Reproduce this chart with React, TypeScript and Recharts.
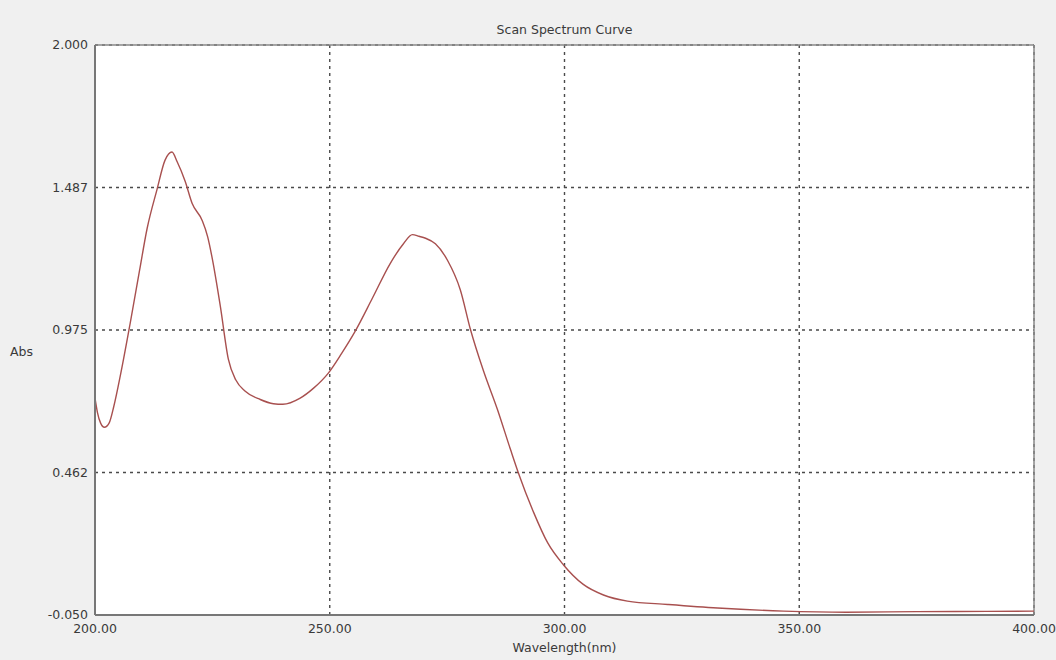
import React from 'react';
import { LineChart, Line, XAxis, YAxis, CartesianGrid, ReferenceLine } from 'recharts';

const wavelengths = [
  200.0, 200.5, 201.2, 202.0, 203.0, 204.0, 205.5, 207.5, 209.5, 211.1,
  213.2, 214.9, 216.4, 217.5, 219.2, 220.7, 222.8, 224.0, 225.0, 226.7,
  228.4, 230.0, 232.0, 235.2, 238.0, 240.0, 243.7, 246.5, 249.7, 252.5,
  255.4, 259.1, 262.9, 265.7, 267.6, 269.0, 270.4, 272.5, 275.1, 277.8,
  280.0, 282.7, 285.7, 288.5, 290.2, 293.4, 296.4, 299.8, 304.0, 308.3,
  313.4, 322.0, 332.6, 346.7, 360.0, 375.0, 390.0, 400.0,
];

const absorbance = [
  0.73, 0.68, 0.64, 0.625, 0.64, 0.70, 0.82, 1.0, 1.19, 1.34,
  1.48, 1.585, 1.615, 1.58, 1.51, 1.43, 1.37, 1.31, 1.23, 1.06,
  0.87, 0.795, 0.755, 0.725, 0.71, 0.708, 0.73, 0.765, 0.82, 0.89,
  0.97, 1.09, 1.215, 1.285, 1.318, 1.312, 1.305, 1.285, 1.225, 1.12,
  0.975, 0.83, 0.69, 0.545, 0.46, 0.32, 0.21, 0.13, 0.06, 0.022,
  0.0, -0.012, -0.025, -0.036, -0.04, -0.038, -0.037, -0.036,
];

const xTicks = [200, 250, 300, 350, 400];
const yTicks = [-0.05, 0.4625, 0.975, 1.4875, 2.0];
const yTickLabels = ['-0.050', '0.462', '0.975', '1.487', '2.000'];

const chartData = wavelengths.map((wl, i) => ({ wl, abs: absorbance[i] }));

const font = '"DejaVu Sans", sans-serif';
const tickStyle = { fontSize: 12.5, fill: '#3a3a3a', fontFamily: font };

const App: React.FC = () => {
  return (
    <div style={{ position: 'absolute', left: 0, top: 0, width: 1056, height: 660, background: '#f0f0f0' }}>
      <div
        style={{
          position: 'absolute',
          top: 22,
          left: 95,
          width: 939,
          textAlign: 'center',
          fontFamily: font,
          fontSize: 12.5,
          color: '#3a3a3a',
        }}
      >
        Scan Spectrum Curve
      </div>
      <LineChart width={1056} height={660} data={chartData} margin={{ top: 45, right: 22, bottom: 0, left: 0 }}>
        <CartesianGrid fill="#fff" stroke="#4a4a4a" strokeDasharray="3 4" strokeWidth={1.4} />
        <XAxis
          dataKey="wl"
          type="number"
          domain={[200, 400]}
          ticks={xTicks}
          tickFormatter={(v: number) => v.toFixed(2)}
          height={45}
          tickLine={false}
          tickSize={6}
          tickMargin={3}
          axisLine={{ stroke: '#777', strokeWidth: 2 }}
          tick={tickStyle}
          label={{ value: 'Wavelength(nm)', position: 'insideBottom', offset: 8, style: tickStyle }}
        />
        <YAxis
          type="number"
          domain={[-0.05, 2.0]}
          ticks={yTicks}
          tickFormatter={(v: number) => yTickLabels[yTicks.indexOf(v)]}
          width={95}
          tickLine={false}
          tickSize={5}
          tickMargin={2}
          axisLine={{ stroke: '#777', strokeWidth: 2 }}
          tick={tickStyle}
          label={{ value: 'Abs', position: 'insideLeft', offset: 10, dy: 22, style: tickStyle }}
        />
        <ReferenceLine x={400} stroke="#888" strokeWidth={1.5} />
        <ReferenceLine y={2.0} stroke="#888" strokeWidth={1.5} />
        <Line
          type="monotone"
          dataKey="abs"
          stroke="#a8504f"
          strokeWidth={1.4}
          dot={false}
          isAnimationActive={false}
        />
      </LineChart>
    </div>
  );
};

export default App;
